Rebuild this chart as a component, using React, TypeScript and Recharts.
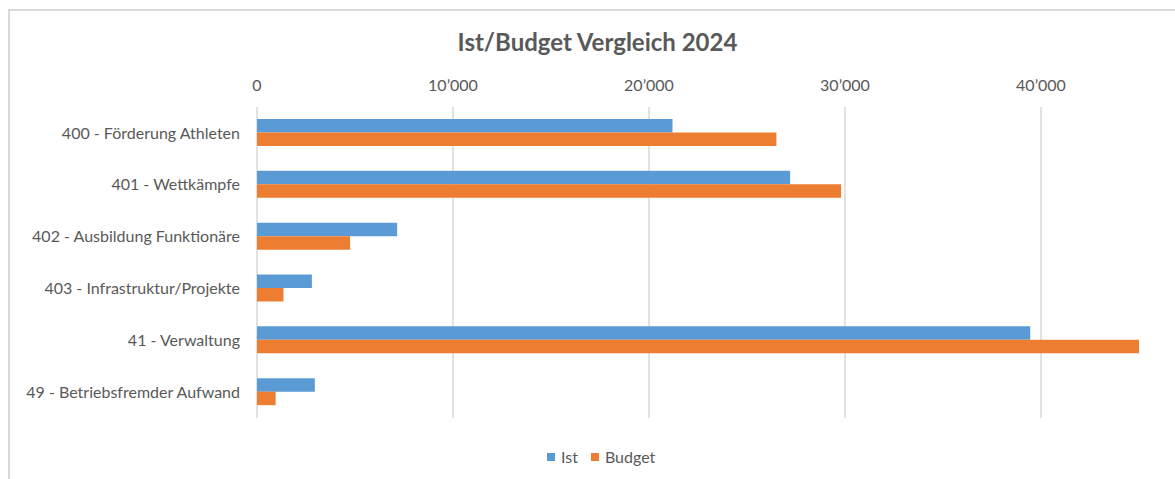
import React from "react";
import { BarChart, Bar, XAxis, YAxis, CartesianGrid } from "recharts";

const categories = [
  "400 - Förderung Athleten",
  "401 - Wettkämpfe",
  "402 - Ausbildung Funktionäre",
  "403 - Infrastruktur/Projekte",
  "41 - Verwaltung",
  "49 - Betriebsfremder Aufwand",
];
const istValues = [21200, 27200, 7150, 2800, 39450, 2950];
const budgetValues = [26500, 29800, 4750, 1350, 45000, 950];
const xTicks = [0, 10000, 20000, 30000, 40000];
const seriesNames = ["Ist", "Budget"];
const seriesColors = ["#5B9BD5", "#ED7D31"];

const data = categories.map((c, i) => ({ name: c, ist: istValues[i], budget: budgetValues[i] }));

const fmt = (v: number) => (v === 0 ? "0" : `${Math.round(v / 1000)}\u2019000`);

const FONT = "Lato, 'Open Sans', sans-serif";
const TXT = "#595959";

export default function App() {
  return (
    <div style={{ position: "absolute", left: 0, top: 0, width: 1175, height: 479, overflow: "hidden", background: "#fff" }}>
      <div style={{ position: "absolute", left: 8, top: 9, width: 1300, height: 600, border: "2px solid #d9d9d9", boxSizing: "border-box" }} />
      <div style={{ position: "absolute", left: 10, top: 27, width: 1175, textAlign: "center", fontFamily: FONT, fontWeight: 700, fontSize: 24, color: TXT, lineHeight: "30px" }}>
        Ist/Budget Vergleich 2024
      </div>
      <div style={{ position: "absolute", left: 0, top: 0 }}>
        <BarChart
          width={1175}
          height={479}
          data={data}
          layout="vertical"
          margin={{ top: 77, right: 36, bottom: 61, left: 0 }}
          barGap={0}
        >
          <CartesianGrid horizontal={false} stroke="#d9d9d9" strokeWidth={1.5} syncWithTicks />
          <XAxis
            type="number"
            orientation="top"
            domain={[0, 45000]}
            ticks={xTicks}
            tickFormatter={fmt}
            axisLine={false}
            tickLine={false}
            tickSize={0}
            tickMargin={16}
            height={30}
            tick={{ fill: TXT, fontSize: 16, fontFamily: FONT }}
            allowDataOverflow
          />
          <YAxis
            type="category"
            dataKey="name"
            width={257}
            axisLine={false}
            tickLine={false}
            tickSize={0}
            tickMargin={17}
            tick={{ fill: TXT, fontSize: 16, fontFamily: FONT }}
            interval={0}
          />
          <Bar dataKey="ist" name={seriesNames[0]} fill={seriesColors[0]} barSize={13.5} isAnimationActive={false} />
          <Bar dataKey="budget" name={seriesNames[1]} fill={seriesColors[1]} barSize={13.5} isAnimationActive={false} />
        </BarChart>
      </div>
      <div style={{ position: "absolute", left: 547, top: 447, display: "flex", alignItems: "center", fontFamily: FONT, fontSize: 16, color: TXT, lineHeight: "20px" }}>
        {seriesNames.map((n, i) => (
          <span key={n} style={{ display: "inline-flex", alignItems: "center", marginRight: i === 0 ? 13 : 0 }}>
            <span style={{ width: 8, height: 8, background: seriesColors[i], display: "inline-block", marginRight: 6 }} />
            {n}
          </span>
        ))}
      </div>
    </div>
  );
}
